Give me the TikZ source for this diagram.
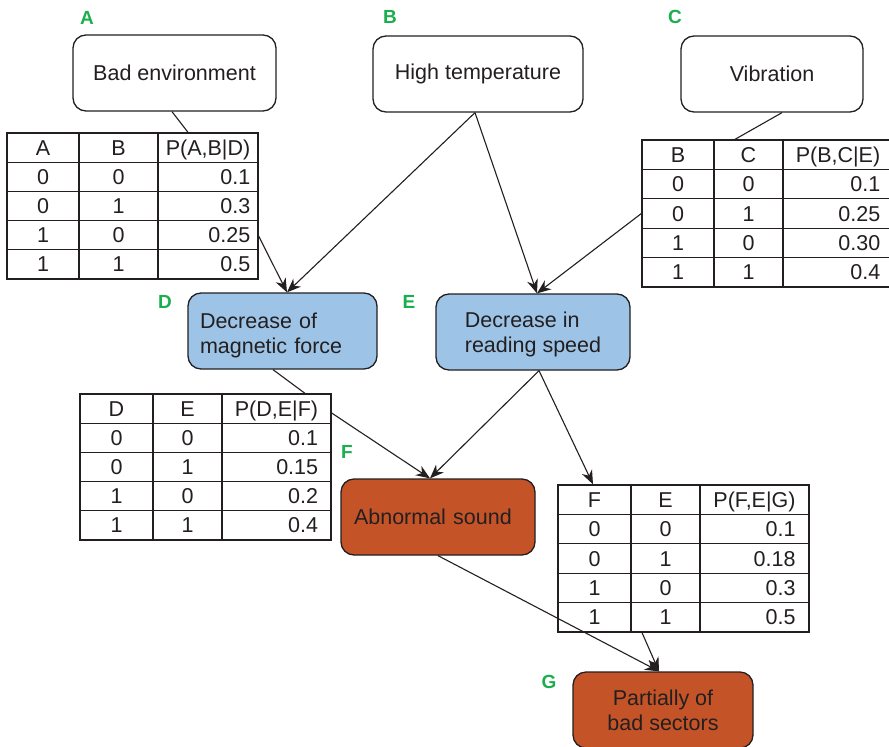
\documentclass[tikz,border=0pt]{standalone}
\usepackage{fontspec}
\setmainfont{Liberation Sans}
\usetikzlibrary{arrows.meta}

\definecolor{ink}{HTML}{231F20}
\definecolor{nodeblue}{HTML}{9DC3E6}
\definecolor{nodeorange}{HTML}{C45427}
\definecolor{tagcolor}{HTML}{1AAE4C}

% Conditional probability table:
% #1 name, #2 left x, #3 first divider, #4 second divider, #5 right x,
% #6 top y, #7 bottom y, #8 header triple, #9 list of rows
\newcommand{\cptable}[9]{%
  \node[tframe, minimum width={#5-#2}, minimum height={#7-#6}] (#1) at ({(#2+#5)/2},{(#6+#7)/2}) {};
  \pgfmathsetmacro\rowh{(#7-#6)/5}
  \foreach \k in {1,...,4} \draw[tline] (#2,{#6+\k*\rowh}) -- (#5,{#6+\k*\rowh});
  \draw[tline] (#3,#6) -- (#3,#7) (#4,#6) -- (#4,#7);
  \foreach \ha/\hb/\hc in {#8} {
    \node[cell] (#1-h1) at ({(#2+#3)/2},{#6+0.5*\rowh}) {\ha};
    \node[cell] (#1-h2) at ({(#3+#4)/2},{#6+0.5*\rowh}) {\hb};
    \node[cell] (#1-h3) at ({(#4+#5)/2},{#6+0.5*\rowh}) {\hc};
  }
  \foreach \ra/\rb/\rc [count=\k] in {#9} {
    \pgfmathsetmacro\yy{#6+(\k+0.5)*\rowh}
    \coordinate (#1-y\k) at (0,\yy);
    \node[cell] (#1-r\k-a) at ({(#2+#3)/2},\yy) {\ra};
    \node[cell] (#1-r\k-b) at ({(#3+#4)/2},\yy) {\rb};
    \node[cell, anchor=east] (#1-r\k-c) at (#1-h3.east |- #1-y\k) {\rc};
  }
}

\begin{document}
\begin{tikzpicture}[x=1pt, y=-1pt,
  font=\fontsize{21.5}{25}\selectfont, text=ink,
  box/.style={draw=ink, line width=1.3pt, rounded corners=13pt,
    minimum height=76pt, inner ysep=0pt},
  plainbox/.style={box, fill=white, inner xsep=0pt},
  bluebox/.style={box, fill=nodeblue, align=left},
  orangebox/.style={box, fill=nodeorange},
  tag/.style={text=tagcolor, font=\fontsize{19}{19}\selectfont\bfseries},
  tframe/.style={draw=ink, fill=white, line width=1.3pt, inner sep=0pt},
  tline/.style={draw=ink, line width=1.3pt},
  cell/.style={inner sep=0pt, text height=15pt, text depth=0pt},
  conn/.style={draw=ink, line width=1.1pt},
  arr/.style={conn, -{Stealth[length=14pt, width=11pt, inset=4.5pt]}},
]
\fill[white] (0,0) rectangle (889,747);
\useasboundingbox (0,0) rectangle (889,747);

% root causes
\node[plainbox, minimum width=203pt] (bad) at (174.5,73) {Bad environment};
\node[plainbox, minimum width=210pt] (temp) at (478,74) {High temperature};
\node[plainbox, minimum width=182pt] (vib) at (772,74) {Vibration};

% intermediate effects
\node[bluebox, text width=165pt, text height=24.5pt, inner xsep=12pt, minimum width=189pt] (mag) at (282.5,331) {Decrease of\\magnetic force};
\node[bluebox, text depth=0pt, inner xsep=0pt, minimum width=194pt] (read) at (533,332) {Decrease in\\reading speed};

% observed symptoms
\node[orangebox, text width=168pt, inner xsep=13pt, minimum width=194pt, align=left] (sound) at (438,517) {Abnormal sound};
\node[orangebox, minimum width=180pt, align=center, inner xsep=0pt] (sect) at (663,710) {Partially of\\bad sectors};

% letters of the variables
\node[tag] (tagA) at (87,18) {A};
\node[tag] (tagB) at (390,17) {B};
\node[tag] (tagC) at (675,17) {C};
\node[tag] (tagD) at (165,302) {D};
\node[tag] (tagE) at (409,302) {E};
\node[tag] (tagF) at (347,452) {F};
\node[tag] (tagG) at (549,682) {G};

% probability tables
\cptable{tA}{7}{79}{158}{258}{133}{279}{A/B/{P(A,B|D)}}{0/0/0.1,0/1/0.3,1/0/0.25,1/1/0.5}
\cptable{tC}{642}{714}{783}{893}{140}{287}{B/C/{P(B,C|E)}}{0/0/0.1,0/1/0.25,1/0/0.30,1/1/0.4}
\cptable{tD}{80}{153}{222}{331}{394}{540}{D/E/{P(D,E|F)}}{0/0/0.1,0/1/0.15,1/0/0.2,1/1/0.4}
\cptable{tG}{558}{631}{700}{809}{485}{632}{F/E/{P(F,E|G)}}{0/0/0.1,0/1/0.18,1/0/0.3,1/1/0.5}

% connectors
\draw[conn] ([xshift=-2.5pt]bad.south) -- ([xshift=55.5pt]tA.north);
\draw[arr] ([yshift=-30pt]tA.east) -- ([xshift=4.5pt]mag.north);
\draw[arr] ([xshift=-3pt]temp.south) -- ([xshift=4.5pt]mag.north);
\draw[arr] ([xshift=-3pt]temp.south) -- ([xshift=4pt]read.north);
\draw[conn] ([xshift=10pt]vib.south) -- ([xshift=-32.5pt]tC.north);
\draw[arr] (tC.west) -- ([xshift=4pt]read.north);
\draw[conn] ([xshift=-9.5pt]mag.south) -- ([xshift=99.5pt]tD.north);
\draw[arr] ([yshift=54pt]tD.east) -- ([xshift=-8pt]sound.north);
\draw[arr] ([xshift=6pt]read.south) -- ([xshift=-8pt]sound.north);
\draw[arr] ([xshift=6pt]read.south) -- ([xshift=-90.5pt]tG.north);
\draw[arr] (sound.south) -- ([xshift=-4pt]sect.north);
\draw[arr] ([xshift=-41.5pt]tG.south) -- ([xshift=-4pt]sect.north);
\end{tikzpicture}
\end{document}
